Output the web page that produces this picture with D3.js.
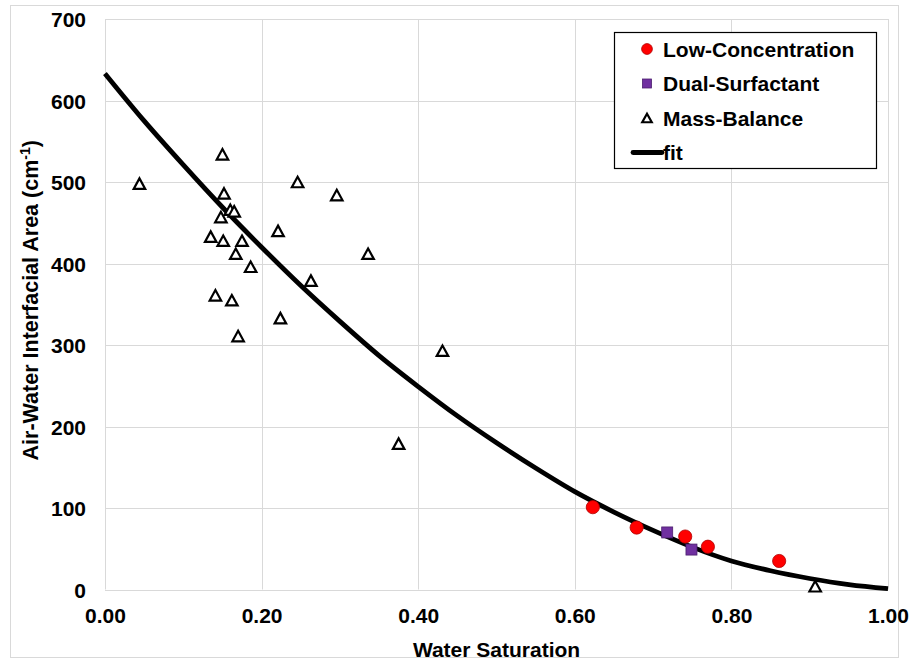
<!DOCTYPE html>
<html>
<head>
<meta charset="utf-8">
<script src="https://cdn.jsdelivr.net/npm/d3@7"></script>
<style>
  body { margin: 0; background: #fff; }
  text { font-family: "Liberation Sans", Arial, sans-serif; font-weight: bold; }
</style>
</head>
<body>
<svg id="chart" width="909" height="663"></svg>
<script>
// ---- data ----
const lowConcSw   = [0.623, 0.679, 0.741, 0.770, 0.861];
const lowConcArea = [101, 76, 65, 52.5, 35];

const dualSw   = [0.718, 0.749];
const dualArea = [70, 49];

const massSw   = [0.044, 0.150, 0.152, 0.160, 0.165, 0.148, 0.135, 0.151, 0.175, 0.167, 0.186,
                  0.141, 0.162, 0.170, 0.246, 0.296, 0.221, 0.336, 0.263, 0.224, 0.431, 0.375, 0.907];
const massArea = [498, 534, 486, 466, 464, 457, 433, 428, 428, 412, 396,
                  361, 355, 311, 500, 484, 440, 412, 379, 333, 293, 179, 4];

const fitSw   = [0, 0.05, 0.10, 0.15, 0.20, 0.25, 0.30, 0.35, 0.40, 0.45, 0.50,
                 0.55, 0.60, 0.65, 0.70, 0.75, 0.80, 0.85, 0.90, 0.95, 1.00];
const fitArea = [633, 575, 521, 469, 420, 373, 329, 287, 249, 213, 180,
                 149, 120, 95, 72.5, 52, 35, 23, 13.5, 6, 1];

const xTicks = [0, 0.2, 0.4, 0.6, 0.8, 1.0];
const yTicks = [0, 100, 200, 300, 400, 500, 600, 700];

const legendLabels = ["Low-Concentration", "Dual-Surfactant", "Mass-Balance", "fit"];

// ---- layout ----
const svg = d3.select("#chart");
const L = 105, R = 888, T = 19, B = 589.5;
const x = d3.scaleLinear().domain([0, 1]).range([L, R]);
const y = d3.scaleLinear().domain([0, 700]).range([B, T]);
const FS = 21;

// outer chart border
svg.append("rect").attr("x", 10.5).attr("y", 5.5).attr("width", 888).attr("height", 652)
  .attr("fill", "none").attr("stroke", "#d9d9d9").attr("stroke-width", 1);

// gridlines
const grid = svg.append("g");
grid.selectAll(".gx").data(xTicks).join("line")
  .attr("x1", d => Math.round(x(d)) + 0.5).attr("x2", d => Math.round(x(d)) + 0.5)
  .attr("y1", T).attr("y2", B)
  .attr("stroke", "#d9d9d9").attr("stroke-width", 1);
grid.selectAll(".gy").data(yTicks).join("line")
  .attr("y1", d => Math.round(y(d)) + 0.5).attr("y2", d => Math.round(y(d)) + 0.5)
  .attr("x1", L).attr("x2", R)
  .attr("stroke", "#d9d9d9").attr("stroke-width", 1);

// axes (labels only)
const xAxis = d3.axisBottom(x).tickValues(xTicks).tickFormat(d3.format(".2f")).tickSize(0).tickPadding(0);
const gx = svg.append("g").attr("transform", `translate(0,${B})`).call(xAxis);
gx.select(".domain").remove();
gx.selectAll("text").attr("font-size", FS).attr("fill", "#000")
  .attr("dy", null).attr("y", 33)
  .style("font-family", '"Liberation Sans", Arial, sans-serif').style("font-weight", "bold");

const yAxis = d3.axisLeft(y).tickValues(yTicks).tickFormat(d3.format("d")).tickSize(0).tickPadding(0);
const gy = svg.append("g").attr("transform", `translate(${L},0)`).call(yAxis);
gy.select(".domain").remove();
gy.selectAll("text").attr("font-size", FS).attr("fill", "#000")
  .attr("x", -19).attr("dy", "0.36em")
  .style("font-family", '"Liberation Sans", Arial, sans-serif').style("font-weight", "bold");

// axis titles
svg.append("text").attr("x", (L + R) / 2).attr("y", 657).attr("text-anchor", "middle")
  .attr("font-size", FS).attr("fill", "#000").text("Water Saturation");

const yt = svg.append("text").attr("transform", `translate(38,${(T + B) / 2 - 4}) rotate(-90)`)
  .attr("text-anchor", "middle").attr("font-size", FS + 0.5).attr("fill", "#000");
yt.append("tspan").text("Air-Water Interfacial Area (cm");
yt.append("tspan").attr("font-size", 14).attr("dy", -8).text("-1");
yt.append("tspan").attr("dy", 8).text(")");

// fit line
const fitData = fitSw.map((s, i) => [s, fitArea[i]]);
svg.append("path").datum(fitData)
  .attr("d", d3.line().x(d => x(d[0])).y(d => y(d[1])).curve(d3.curveMonotoneX))
  .attr("fill", "none").attr("stroke", "#000").attr("stroke-width", 4.8)
  .attr("stroke-linejoin", "round");

// markers
const triPath = (w, h) => `M0,${-h / 2}L${w / 2},${h / 2}L${-w / 2},${h / 2}Z`;

const massData = massSw.map((s, i) => [s, massArea[i]]);
svg.append("g").selectAll("path").data(massData).join("path")
  .attr("transform", d => `translate(${x(d[0])},${y(d[1])})`)
  .attr("d", triPath(11.5, 10.5))
  .attr("fill", "#fff").attr("stroke", "#000").attr("stroke-width", 2.2)
  .attr("stroke-linejoin", "miter");

const lowData = lowConcSw.map((s, i) => [s, lowConcArea[i]]);
svg.append("g").selectAll("circle").data(lowData).join("circle")
  .attr("cx", d => x(d[0])).attr("cy", d => y(d[1])).attr("r", 6.6)
  .attr("fill", "#ff0000").attr("stroke", "#b00000").attr("stroke-width", 0.8);

const dualData = dualSw.map((s, i) => [s, dualArea[i]]);
svg.append("g").selectAll("rect").data(dualData).join("rect")
  .attr("x", d => x(d[0]) - 5.5).attr("y", d => y(d[1]) - 5.5)
  .attr("width", 11).attr("height", 11)
  .attr("fill", "#7030a0").attr("stroke", "#4b1f6e").attr("stroke-width", 0.8);

// legend
const lg = svg.append("g");
lg.append("rect").attr("x", 614.5).attr("y", 32.5).attr("width", 262).attr("height", 136)
  .attr("fill", "#fff").attr("stroke", "#000").attr("stroke-width", 1.2);
const rowY = [49, 83.5, 118, 152.5];
const mx = 647;
lg.append("circle").attr("cx", mx).attr("cy", rowY[0]).attr("r", 5.4)
  .attr("fill", "#ff0000").attr("stroke", "#b00000").attr("stroke-width", 0.8);
lg.append("rect").attr("x", mx - 4.5).attr("y", rowY[1] - 4.5).attr("width", 9).attr("height", 9)
  .attr("fill", "#7030a0").attr("stroke", "#4b1f6e").attr("stroke-width", 0.8);
lg.append("path").attr("transform", `translate(${mx},${rowY[2]})`).attr("d", triPath(9.5, 8.5))
  .attr("fill", "#fff").attr("stroke", "#000").attr("stroke-width", 2.2);
lg.append("line").attr("x1", 633).attr("x2", 662).attr("y1", rowY[3]).attr("y2", rowY[3])
  .attr("stroke", "#000").attr("stroke-width", 4.8).attr("stroke-linecap", "round");
lg.selectAll(".lt").data(legendLabels).join("text")
  .attr("x", 663)
  .attr("y", (d, i) => rowY[i] + 7.5)
  .attr("font-size", FS).attr("fill", "#000").text(d => d);
</script>
</body>
</html>
